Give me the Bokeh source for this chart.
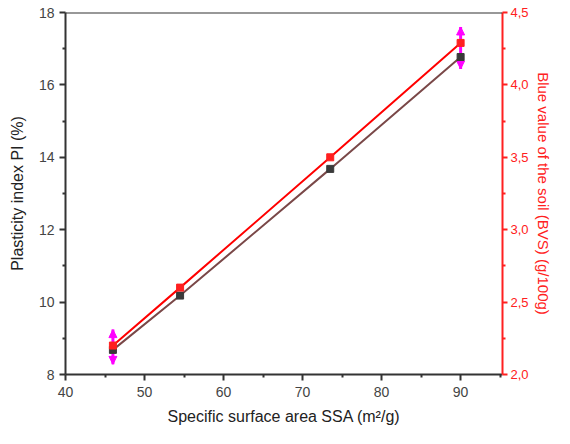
from bokeh.plotting import figure
from bokeh.models import (Range1d, LinearAxis, FixedTicker, Whisker, NormalHead,
                          ColumnDataSource, Span)
from bokeh.embed import file_html
from bokeh.resources import INLINE

# ---- data ----
ssa = [46.0, 54.5, 73.5, 90.0]          # Specific surface area SSA (m2/g)
pi_vals = [8.68, 10.18, 13.68, 16.77]   # Plasticity index PI (%)
bvs_vals = [2.20, 2.60, 3.50, 4.29]     # Blue value of the soil (g/100g)
err_x = [46.0, 90.0]
err_lo = [2.07, 4.11]
err_hi = [2.31, 4.40]

x_ticks = [40, 50, 60, 70, 80, 90]
x_minor = [45, 55, 65, 75, 85, 95]
y_ticks = [8, 10, 12, 14, 16, 18]
y_minor = [9, 11, 13, 15, 17]
r_ticks = [2.0, 2.5, 3.0, 3.5, 4.0, 4.5]
r_minor = [2.25, 2.75, 3.25, 3.75, 4.25]
r_labels = ["2,0", "2,5", "3,0", "3,5", "4,0", "4,5"]

FONT = "Liberation Sans"
AX = "#333333"
RED = "#ff2020"

p = figure(width=554, height=428, output_backend="svg", toolbar_location=None,
           x_range=Range1d(40, 95.3), y_range=Range1d(8, 18))
p.min_border_left = 65
p.min_border_right = 0
p.min_border_top = 12
p.min_border_bottom = 54
p.outline_line_color = None
p.grid.visible = False
p.background_fill_color = "white"
p.border_fill_color = "white"

p.extra_y_ranges = {"bvs": Range1d(2.0, 4.5)}

# axes styling
xa = p.xaxis[0]
xa.ticker = FixedTicker(ticks=x_ticks, minor_ticks=x_minor)
xa.axis_label = "Specific surface area SSA (m\u00b2/g)"
ya = p.yaxis[0]
ya.ticker = FixedTicker(ticks=y_ticks, minor_ticks=y_minor)
ya.axis_label = "Plasticity index PI (%)"
for a in (xa, ya):
    a.axis_line_color = AX
    a.axis_line_width = 2
    a.major_tick_line_color = AX
    a.minor_tick_line_color = AX
    a.major_tick_line_width = 2
    a.minor_tick_line_width = 2
    a.major_tick_out = 6
    a.major_tick_in = 0
    a.minor_tick_out = 3
    a.minor_tick_in = 0
    a.major_label_text_font = FONT
    a.major_label_text_font_size = "14px"
    a.major_label_text_color = "#444444"
    a.axis_label_text_font = FONT
    a.axis_label_text_font_size = "16px"
    a.axis_label_text_font_style = "normal"
    a.axis_label_text_color = "#222222"
xa.major_label_standoff = 6
xa.axis_label_standoff = 8
ya.major_label_standoff = 5
ya.axis_label_standoff = 10

ra = LinearAxis(y_range_name="bvs",
                ticker=FixedTicker(ticks=r_ticks, minor_ticks=r_minor))
ra.major_label_overrides = {t: l for t, l in zip(r_ticks, r_labels)}
ra.axis_label = "Blue value of the soil (BVS) (g/100g)"
ra.axis_line_color = RED
ra.axis_line_width = 2
ra.major_tick_line_color = RED
ra.minor_tick_line_color = RED
ra.major_tick_line_width = 2
ra.minor_tick_line_width = 2
ra.major_tick_out = 5
ra.major_tick_in = 0
ra.minor_tick_out = 3
ra.minor_tick_in = 0
ra.major_label_text_font = FONT
ra.major_label_text_font_size = "13px"
ra.major_label_text_color = RED
ra.major_label_standoff = 3
ra.axis_label_text_font = FONT
ra.axis_label_text_font_size = "15px"
ra.axis_label_text_font_style = "normal"
ra.axis_label_text_color = RED
ra.axis_label_standoff = 3
p.add_layout(ra, "right")

# top frame line
p.add_layout(Span(location=18, dimension="width", line_color=AX, line_width=2))

# series
src_pi = ColumnDataSource(dict(x=ssa, y=pi_vals))
src_bvs = ColumnDataSource(dict(x=ssa, y=bvs_vals))
p.line("x", "y", source=src_pi, line_color="#7a4848", line_width=2)
p.scatter("x", "y", source=src_pi, marker="square", size=7,
          fill_color="#3a3a3a", line_color="#3a3a3a")
p.line("x", "y", source=src_bvs, line_color="#ff0000", line_width=2,
       y_range_name="bvs")
p.scatter("x", "y", source=src_bvs, marker="square", size=7,
          fill_color=RED, line_color=RED, y_range_name="bvs")

# error bars (magenta with arrow heads)
src_err = ColumnDataSource(dict(x=err_x, lo=err_lo, hi=err_hi))
w = Whisker(base="x", lower="lo", upper="hi", source=src_err, y_range_name="bvs",
            line_color="#ff00ff", line_width=3,
            upper_head=NormalHead(size=8, fill_color="#ff00ff", line_color="#ff00ff"),
            lower_head=NormalHead(size=8, fill_color="#ff00ff", line_color="#ff00ff"))
p.add_layout(w)

open("out.html", "w").write(file_html(p, INLINE))
